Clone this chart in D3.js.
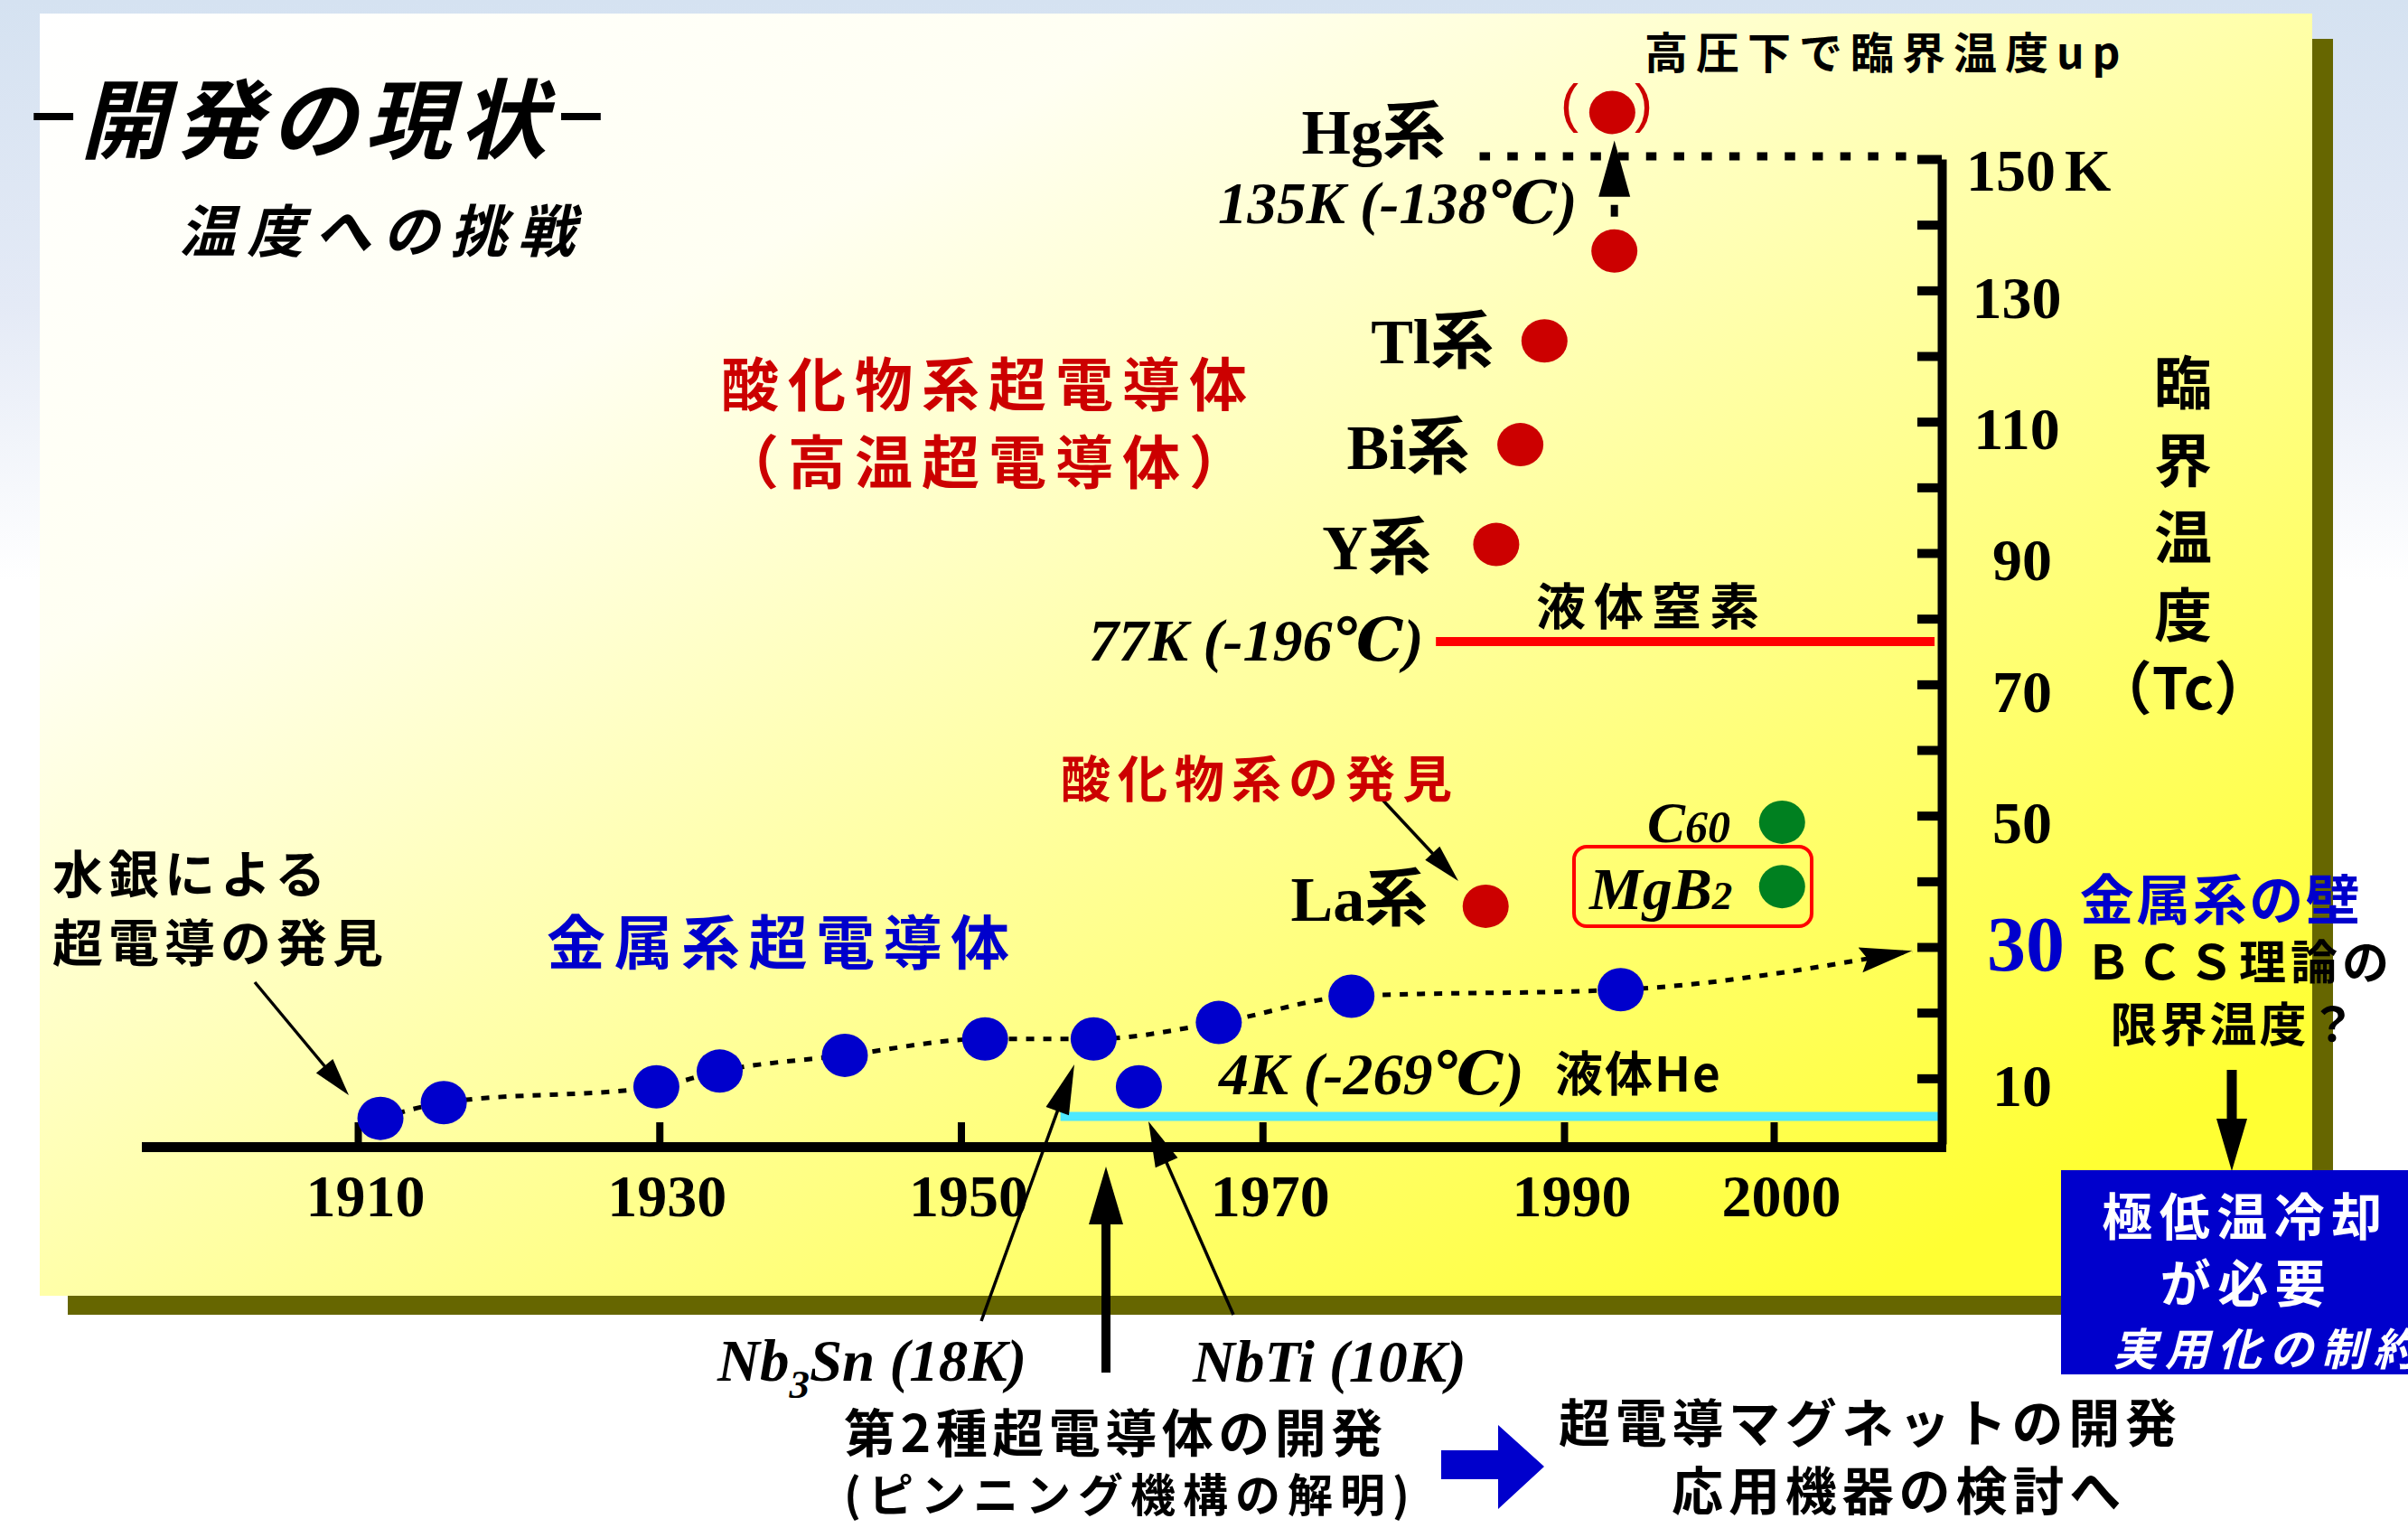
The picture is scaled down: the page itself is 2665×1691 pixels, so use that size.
<!DOCTYPE html>
<html><head><meta charset="utf-8">
<script src="https://cdn.jsdelivr.net/npm/d3@7"></script>
<style>
html,body{margin:0;padding:0;overflow:hidden;background:#fff}
svg{display:block}
</style></head><body>
<svg id="c" width="2665" height="1691"></svg>
<script>
// ---------------- data ----------------
const years = [1910, 1930, 1950, 1970, 1990, 2000];
const kTicks = [10,20,30,40,50,60,70,80,90,100,110,120,130,140,150];
const kLabels = [10,30,50,70,90,110,130,150];

const metalYears = [1911.5,1915.7,1929.8,1934.0,1942.3,1951.6,1958.8,1961.8,1967.1,1975.9,1992.7];
const metalTc    = [3.9,   6.3,   8.7,   11.1,  13.5,  16.0,  16.0,  8.7,   18.5,  22.5,  23.5];
const trendIdx   = [0,1,2,3,4,5,6,8,9,10];
const trendEndYear = 2006.6, trendEndTc = 29.4;

const oxideNames = ["La系","Y系","Bi系","Tl系","Hg系","Hg系(高圧)"];
const oxideYears = [1984.8,1985.5,1987.1,1988.7,1992.4,1992.3];
const oxideTc    = [36.2,  91.3,  106.5, 122.3, 136.0, 157.1];

const otherNames = ["C60","MgB2"];
const otherYears = [2000.4,2000.4];
const otherTc    = [49.0, 39.2];

const refNames = ["液体He","液体窒素","高圧下"];
const refTc    = [4.2, 76.5, 150];
const refFrom  = [1956.6, 1981.5, 1984.4];

// ---------------- setup ----------------
const svg = d3.select('#c');
const defs = svg.append('defs');
const bg = defs.append('linearGradient').attr('id','bg').attr('x1',0).attr('y1',0).attr('x2',0).attr('y2',1);
bg.append('stop').attr('offset',0).attr('stop-color','#d5e2f1');
bg.append('stop').attr('offset',0.2).attr('stop-color','#e4eaf6');
bg.append('stop').attr('offset',0.38).attr('stop-color','#ffffff');
bg.append('stop').attr('offset',1).attr('stop-color','#ffffff');
const pg = defs.append('linearGradient').attr('id','pg').attr('x1',0).attr('y1',0).attr('x2',1).attr('y2',1);
pg.append('stop').attr('offset',0).attr('stop-color','#ffffff');
pg.append('stop').attr('offset',0.25).attr('stop-color','#fffff2');
pg.append('stop').attr('offset',0.9).attr('stop-color','#ffff33');
pg.append('stop').attr('offset',1).attr('stop-color','#ffff33');

svg.append('rect').attr('width',2665).attr('height',1691).attr('fill','url(#bg)');
svg.append('rect').attr('x',75).attr('y',43).attr('width',2507).attr('height',1412).attr('fill','#666600');
svg.append('rect').attr('x',44).attr('y',15).attr('width',2515).attr('height',1419).attr('fill','url(#pg)');

const SERIF = "'Liberation Serif','DejaVu Serif','Noto Sans CJK JP',serif";
const JP = "'Noto Sans CJK JP','Noto Sans CJK SC',sans-serif";

const x = d3.scaleLinear().domain([1910,1990,2000]).range([396,1731,1963]);
const y = d3.scaleLinear().domain([0,150]).range([1266,176]);
const axisX = 2149;

// ---------------- reference lines ----------------
const refG = svg.append('g');
refG.append('line').attr('x1',x(refFrom[0])).attr('x2',axisX-4).attr('y1',y(refTc[0])).attr('y2',y(refTc[0]))
  .attr('stroke','#4ce8ff').attr('stroke-width',10);
refG.append('line').attr('x1',x(refFrom[1])).attr('x2',axisX-8).attr('y1',y(refTc[1])).attr('y2',y(refTc[1]))
  .attr('stroke','#ff0000').attr('stroke-width',10);
refG.append('line').attr('x1',x(refFrom[2])).attr('x2',axisX-27).attr('y1',y(refTc[2])-3).attr('y2',y(refTc[2])-3)
  .attr('stroke','#000').attr('stroke-width',9).attr('stroke-dasharray','11.5 19.2');

// ---------------- axes ----------------
svg.append('line').attr('x1',157).attr('x2',axisX+5).attr('y1',1269.5).attr('y2',1269.5)
  .attr('stroke','#000').attr('stroke-width',11);

const gx = svg.append('g').attr('transform','translate(0,1264)')
  .call(d3.axisBottom(x).tickValues(years).tickSizeInner(-22).tickSizeOuter(0).tickPadding(35).tickFormat(d3.format('d')));
gx.select('.domain').remove();
gx.selectAll('.tick line').attr('stroke','#000').attr('stroke-width',8);
gx.selectAll('.tick text').attr('font-family',SERIF).attr('font-weight','bold').attr('font-size',66)
  .attr('fill','#000').attr('dx',8);

const gy = svg.append('g').attr('transform',`translate(${axisX},0)`)
  .call(d3.axisRight(y).tickValues(kTicks).tickSizeInner(-27).tickSizeOuter(0).tickPadding(89)
    .tickFormat(d => kLabels.includes(d) ? String(d) : ''));
gy.select('.domain').attr('stroke','#000').attr('stroke-width',10);
gy.selectAll('.tick line').attr('stroke','#000').attr('stroke-width',10);
gy.selectAll('.tick text').attr('font-family',SERIF).attr('font-weight','bold').attr('font-size',66)
  .attr('fill','#000').attr('text-anchor','middle').attr('dy','0.45em')
  .attr('dx', d => d >= 100 ? -6 : 0);
gy.selectAll('.tick').filter(d => d === 30).select('text')
  .attr('fill','#0000cc').attr('font-size',86).attr('dy','0.3em').attr('dx',4);
const t150 = gy.selectAll('.tick').filter(d => d === 150).select('text')
  .attr('text-anchor','start').attr('x',27).attr('dx',0).attr('dy','0.52em');
t150.append('tspan').attr('dx',10).text('K');

// ---------------- trend line ----------------
const trendPts = trendIdx.map(i => [metalYears[i], metalTc[i]]).concat([[trendEndYear, trendEndTc]]);
defs.append('marker').attr('id','ah').attr('markerUnits','userSpaceOnUse')
  .attr('markerWidth',64).attr('markerHeight',34).attr('refX',58).attr('refY',14)
  .attr('orient','auto').attr('viewBox','0 0 64 28')
  .append('path').attr('d','M0,0 L58,14 L0,28 L8,14 Z').attr('fill','#000');
svg.append('path').datum(trendPts)
  .attr('d', d3.line().x(d => x(d[0])).y(d => y(d[1])).curve(d3.curveMonotoneX))
  .attr('fill','none').attr('stroke','#000').attr('stroke-width',5).attr('stroke-dasharray','9 10')
  .attr('marker-end','url(#ah)');

// ---------------- arrows ----------------
const ann = svg.append('g');
function arrow(x1,y1,x2,y2,hl,hw,lw){
  const a = Math.atan2(y2-y1, x2-x1);
  const bx = x2 - hl*Math.cos(a), by = y2 - hl*Math.sin(a);
  ann.append('line').attr('x1',x1).attr('y1',y1).attr('x2',bx+2*Math.cos(a)).attr('y2',by+2*Math.sin(a))
    .attr('stroke','#000').attr('stroke-width',lw);
  const px = -Math.sin(a)*hw/2, py = Math.cos(a)*hw/2;
  ann.append('path').attr('d',`M${x2},${y2}L${bx+px},${by+py}L${bx-px},${by-py}Z`).attr('fill','#000');
}
arrow(282,1087,386,1212,42,24,3.5);
arrow(1529,884,1614,975,42,22,3.5);
arrow(1086,1462,1189,1178,55,27,3.5);
arrow(1365,1455,1271,1241,50,27,3.5);
arrow(1224,1519,1224,1291,64,38,10);
arrow(2470,1184,2470,1296,58,34,11);
const hgx = x(oxideYears[4]);
ann.append('line').attr('x1',hgx).attr('x2',hgx).attr('y1',y(oxideTc[4])-38).attr('y2',y(oxideTc[4])-51)
  .attr('stroke','#000').attr('stroke-width',8);
ann.append('path').attr('d',`M${hgx},${y(oxideTc[5])+31}L${hgx-17.5},${y(oxideTc[4])-60}L${hgx+17.5},${y(oxideTc[4])-60}Z`)
  .attr('fill','#000');

// ---------------- dots ----------------
const dots = svg.append('g');
dots.selectAll('.m').data(metalYears).enter().append('ellipse')
  .attr('cx',(d)=>x(d)).attr('cy',(d,i)=>y(metalTc[i])).attr('rx',25.5).attr('ry',24).attr('fill','#0000cc');
dots.selectAll('.o').data(oxideYears).enter().append('ellipse')
  .attr('cx',(d)=>x(d)).attr('cy',(d,i)=>y(oxideTc[i])).attr('rx',25.5).attr('ry',24).attr('fill','#cc0000');
dots.selectAll('.g').data(otherYears).enter().append('ellipse')
  .attr('cx',(d)=>x(d)).attr('cy',(d,i)=>y(otherTc[i])).attr('rx',25.5).attr('ry',24).attr('fill','#008020');

svg.append('rect').attr('x',1742).attr('y',937).attr('width',263).attr('height',88).attr('rx',14)
  .attr('fill','none').attr('stroke','#ff0000').attr('stroke-width',4);

// ---------------- text helper ----------------
function txt(xp, yp, str, o){
  o = o || {};
  const t = svg.append('text').attr('x',xp).attr('y',yp)
    .attr('font-family', o.fam || JP)
    .attr('font-size', o.size || 56)
    .attr('font-weight', o.weight || 'bold')
    .attr('fill', o.fill || '#000')
    .attr('text-anchor', o.anchor || 'start');
  if (o.italic) t.attr('font-style','italic');
  if (o.ls !== undefined) t.attr('letter-spacing', o.ls);
  if (str !== null) t.text(str);
  return t;
}

// title
const title = txt(30,168,null,{size:96,italic:true});
title.append('tspan').attr('font-family',"'DejaVu Sans',sans-serif").attr('font-size',70).attr('dy',-17).text('−');
title.append('tspan').attr('dy',17).attr('letter-spacing',9).text('開発の現状');
title.append('tspan').attr('font-family',"'DejaVu Sans',sans-serif").attr('font-size',70).attr('dy',-17).text('−');
txt(198,279,'温度への挑戦',{size:63,ls:12,italic:true});

txt(1820,76,'高圧下で臨界温度up',{size:48,ls:9});
txt(1737,135,'(',{fam:"'Liberation Sans',sans-serif",size:60,weight:'normal',fill:'#cc0000',anchor:'middle'});
txt(1819,135,')',{fam:"'Liberation Sans',sans-serif",size:60,weight:'normal',fill:'#cc0000',anchor:'middle'});

txt(798,449,'酸化物系超電導体',{size:64,ls:10,fill:'#cc0000'});
txt(798,535,'（高温超電導体）',{size:64,ls:10,fill:'#cc0000'});

const labOff = {"La系":[-64,16],"Y系":[-72,27],"Bi系":[-56,27],"Tl系":[-56,25]};
oxideNames.forEach((n,i) => {
  if (labOff[n]) txt(x(oxideYears[i])+labOff[n][0], y(oxideTc[i])+labOff[n][1], n, {fam:SERIF,size:70,anchor:'end'});
});
txt(1600,170,oxideNames[4],{fam:SERIF,size:70,anchor:'end'});

txt(1348,247,'135K (-138℃)',{fam:SERIF,size:65,italic:true});
txt(1205,731,'77K (-196℃)',{fam:SERIF,size:66,italic:true});
txt(1700,691,refNames[1],{size:55,ls:9});
txt(1349,1211,'4K (-269℃)',{fam:SERIF,size:66,italic:true});
txt(1721,1208,refNames[0],{size:53,ls:2});

txt(1174,882,'酸化物系の発見',{size:55,ls:8,fill:'#cc0000'});

const c60 = txt(1823,932,null,{fam:SERIF,size:63,italic:true});
c60.append('tspan').text('C');
c60.append('tspan').attr('font-size',50).text('60');
const mgb = txt(1759,1006,null,{fam:SERIF,size:66,italic:true});
mgb.append('tspan').text('MgB');
mgb.append('tspan').attr('font-size',45).text('2');

txt(58,988,'水銀による',{size:56,ls:6});
txt(58,1064,'超電導の発見',{size:56,ls:6});
txt(605,1067,'金属系超電導体',{size:65,ls:9.5,fill:'#0000cc'});

['臨','界','温','度','（Tc）'].forEach((s,i) => {
  txt(2416,[447,533,618,704,785][i],s,{size:64,anchor:'middle'});
});
txt(2458,1018,'金属系の壁',{size:60,ls:2.5,fill:'#0000cc',anchor:'middle'});
txt(2478,1084,'ＢＣＳ理論の',{size:52,ls:5,anchor:'middle'});
txt(2473,1153,'限界温度？',{size:52,ls:3,anchor:'middle'});

svg.append('rect').attr('x',2281).attr('y',1295).attr('width',420).attr('height',226).attr('fill','#0000cc');
txt(2485,1367,'極低温冷却',{size:56,ls:7.5,fill:'#fff',anchor:'middle'});
txt(2486,1441,'が必要',{size:56,ls:7.5,fill:'#fff',anchor:'middle'});
txt(2338,1511,'実用化の制約',{size:49,ls:8.7,fill:'#fff',italic:true});

const nb3 = txt(794,1528,null,{fam:SERIF,size:65,italic:true});
nb3.append('tspan').text('Nb');
nb3.append('tspan').attr('font-size',45).attr('dy',19).text('3');
nb3.append('tspan').attr('dy',-19).text('Sn (18K)');
txt(1320,1529,'NbTi (10K)',{fam:SERIF,size:65,italic:true});
txt(934,1607,'第2種超電導体の開発',{size:57,ls:5.5});
txt(934,1673,'(ピンニング機構の解明)',{size:50,ls:8});

svg.append('path').attr('d','M1595,1605 L1658,1605 L1658,1577 L1709,1623 L1658,1670 L1658,1637 L1595,1637 Z')
  .attr('fill','#0000cc');
txt(1725,1596,'超電導マグネットの開発',{size:57,ls:5.7});
txt(1850,1671,'応用機器の検討へ',{size:57,ls:5.9});
</script>
</body></html>
